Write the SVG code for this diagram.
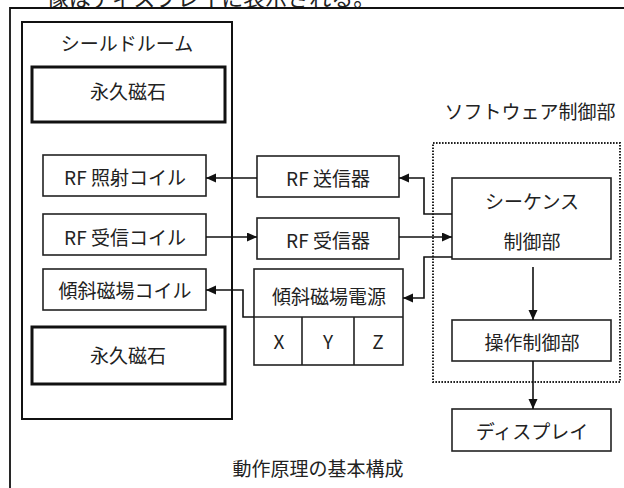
<svg xmlns="http://www.w3.org/2000/svg" width="624" height="488" viewBox="0 0 624 488">
<style>
text{font-family:"Noto Sans CJK JP","Noto Sans",sans-serif;font-size:19px;fill:#222;text-anchor:middle;dominant-baseline:central}
.box{fill:#fff;stroke:#222;stroke-width:1.6}
.mag{fill:#fff;stroke:#111;stroke-width:3}
.room{fill:none;stroke:#111;stroke-width:2}
.dot{fill:none;stroke:#222;stroke-width:2;stroke-dasharray:1.6 1.4}
.con{fill:none;stroke:#111;stroke-width:1.6}
</style>
<defs>
<marker id="ah" markerUnits="userSpaceOnUse" markerWidth="11" markerHeight="10" refX="10" refY="4.5" orient="auto">
<path d="M0,0 L10,4.5 L0,9 z" fill="#111"/>
</marker>
</defs>
<rect width="624" height="488" fill="#fff"/>
<text x="211" y="-4" style="font-size:22px">像はディスプレイに表示される。</text>
<path d="M10,488 V8 H624" fill="none" stroke="#111" stroke-width="1.8"/>
<g id="shield-room">
<rect class="room" x="22" y="22" width="210" height="397"/>
<text x="127" y="42">シールドルーム</text>
</g>
<g id="magnet-top">
<rect class="mag" x="32" y="67" width="193" height="55"/>
<text x="128" y="90">永久磁石</text>
</g>
<g id="rf-tx-coil">
<rect class="box" x="43" y="155" width="163" height="41"/>
<text x="125" y="176">RF 照射コイル</text>
</g>
<g id="rf-rx-coil">
<rect class="box" x="43" y="214" width="163" height="41"/>
<text x="125" y="236">RF 受信コイル</text>
</g>
<g id="grad-coil">
<rect class="box" x="43" y="269" width="163" height="41"/>
<text x="125" y="289">傾斜磁場コイル</text>
</g>
<g id="magnet-bottom">
<rect class="mag" x="32" y="327" width="193" height="57"/>
<text x="128" y="354">永久磁石</text>
</g>
<g id="rf-transmitter">
<rect class="box" x="257" y="156" width="142" height="41"/>
<text x="328" y="177">RF 送信器</text>
</g>
<g id="rf-receiver">
<rect class="box" x="257" y="218" width="142" height="41"/>
<text x="328" y="239">RF 受信器</text>
</g>
<g id="grad-power">
<rect class="box" x="254" y="269" width="149" height="96"/>
<path d="M254,317 H403 M302,317 V365 M354,317 V365" stroke="#222" stroke-width="1.6" fill="none"/>
<text x="329" y="295">傾斜磁場電源</text>
<text x="279" y="340">X</text>
<text x="328" y="340">Y</text>
<text x="378" y="340">Z</text>
</g>
<g id="software">
<rect class="dot" x="433" y="143" width="187" height="239"/>
<text x="530" y="110">ソフトウェア制御部</text>
</g>
<g id="sequence">
<rect class="box" x="452" y="178" width="159" height="81"/>
<text x="532" y="200">シーケンス</text>
<text x="532" y="240">制御部</text>
</g>
<g id="operation">
<rect class="box" x="452" y="320" width="159" height="41"/>
<text x="532" y="341">操作制御部</text>
</g>
<g id="display">
<rect class="box" x="452" y="409" width="159" height="42"/>
<text x="532" y="430">ディスプレイ</text>
</g>
<text x="318" y="467">動作原理の基本構成</text>
<g id="connectors">
<path class="con" d="M257,178 H206" marker-end="url(#ah)"/>
<path class="con" d="M206,237 H257" marker-end="url(#ah)"/>
<path class="con" d="M254,317 H243 V290 H206" marker-end="url(#ah)"/>
<path class="con" d="M452,214 H424 V178 H399" marker-end="url(#ah)"/>
<path class="con" d="M399,237 H452" marker-end="url(#ah)"/>
<path class="con" d="M452,257 H424 V298 H403" marker-end="url(#ah)"/>
<path class="con" d="M533,267 V320" marker-end="url(#ah)"/>
<path class="con" d="M533,361 V409" marker-end="url(#ah)"/>
</g>
</svg>
